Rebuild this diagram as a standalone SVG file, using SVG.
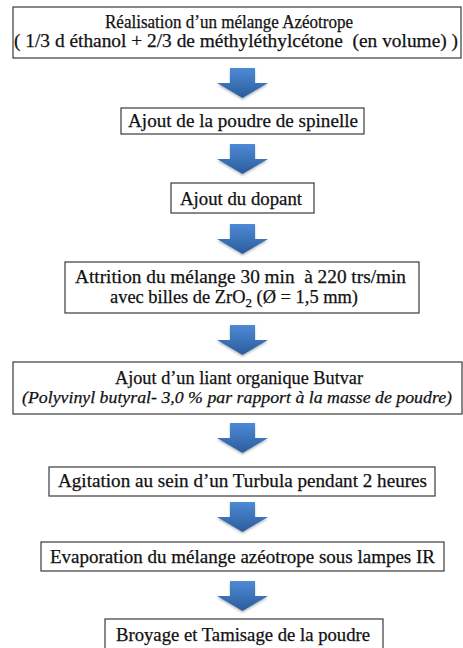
<svg xmlns="http://www.w3.org/2000/svg" width="463" height="648" viewBox="0 0 463 648">
<style>
  .box { fill: #ffffff; stroke: #3a3a3a; stroke-width: 1.2; }
  .t { font-family: "Liberation Serif", "DejaVu Serif", serif; font-size: 18.5px; fill: #111111; stroke: #111111; stroke-width: 0.25; }
  .it { font-style: italic; font-size: 17.5px; }
  .arr { fill: url(#blue); filter: url(#sh); }
</style>
<defs>
  <linearGradient id="blue" x1="0" y1="0" x2="0" y2="1">
    <stop offset="0" stop-color="#4d8ad6"/>
    <stop offset="1" stop-color="#2b5c9c"/>
  </linearGradient>
  <filter id="sh" x="-20%" y="-20%" width="140%" height="150%">
    <feDropShadow dx="0" dy="1.5" stdDeviation="1" flood-color="#000000" flood-opacity="0.3"/>
  </filter>
  <path id="arrow" d="M-12.5,0 H12.5 V15 H25.5 L0,30 L-25.5,15 H-12.5 Z"/>
</defs>
<rect width="463" height="648" fill="#ffffff"/>
<g id="connectors">
  <use href="#arrow" class="arr" transform="translate(242.5,68)"/>
  <use href="#arrow" class="arr" transform="translate(242.5,144)"/>
  <use href="#arrow" class="arr" transform="translate(242.5,224)"/>
  <use href="#arrow" class="arr" transform="translate(242.5,325)"/>
  <use href="#arrow" class="arr" transform="translate(242.5,423)"/>
  <use href="#arrow" class="arr" transform="translate(242.5,502)"/>
  <use href="#arrow" class="arr" transform="translate(242.5,581)"/>
</g>
<g id="n1">
  <rect class="box" x="13" y="7" width="448" height="51"/>
  <text class="t" x="105" y="28" textLength="248" lengthAdjust="spacingAndGlyphs">Réalisation d’un mélange Azéotrope</text>
  <text class="t" x="14" y="47" xml:space="preserve" textLength="444" lengthAdjust="spacingAndGlyphs">( 1/3 d éthanol + 2/3 de méthyléthylcétone  (en volume) )</text>
</g>
<g id="n2">
  <rect class="box" x="121" y="108" width="243" height="26"/>
  <text class="t" x="128" y="127" textLength="230" lengthAdjust="spacingAndGlyphs">Ajout de la poudre de spinelle</text>
</g>
<g id="n3">
  <rect class="box" x="171" y="183" width="143" height="30"/>
  <text class="t" x="180" y="205" textLength="122" lengthAdjust="spacingAndGlyphs">Ajout du dopant</text>
</g>
<g id="n4">
  <rect class="box" x="65" y="262" width="354" height="51"/>
  <text class="t" x="75" y="283" xml:space="preserve" textLength="331" lengthAdjust="spacingAndGlyphs">Attrition du mélange 30 min  à 220 trs/min</text>
  <text class="t" x="110" y="303" textLength="248" lengthAdjust="spacingAndGlyphs">avec billes de ZrO<tspan font-size="13" dy="4">2</tspan><tspan dy="-4"> (Ø = 1,5 mm)</tspan></text>
</g>
<g id="n5">
  <rect class="box" x="13" y="362" width="449" height="52"/>
  <text class="t" x="115" y="384" textLength="248" lengthAdjust="spacingAndGlyphs">Ajout d’un liant organique Butvar</text>
  <text class="t it" x="22" y="403" textLength="430" lengthAdjust="spacingAndGlyphs">(Polyvinyl butyral- 3,0 % par rapport à la masse de poudre)</text>
</g>
<g id="n6">
  <rect class="box" x="49" y="467" width="386" height="29"/>
  <text class="t" x="58" y="487" textLength="369" lengthAdjust="spacingAndGlyphs">Agitation au sein d’un Turbula pendant 2 heures</text>
</g>
<g id="n7">
  <rect class="box" x="41" y="542" width="403" height="29"/>
  <text class="t" x="50" y="563" textLength="385" lengthAdjust="spacingAndGlyphs">Evaporation du mélange azéotrope sous lampes IR</text>
</g>
<g id="n8">
  <rect class="box" x="105" y="619" width="278" height="30"/>
  <text class="t" x="116" y="641" textLength="254" lengthAdjust="spacingAndGlyphs">Broyage et Tamisage de la poudre</text>
</g>
</svg>
